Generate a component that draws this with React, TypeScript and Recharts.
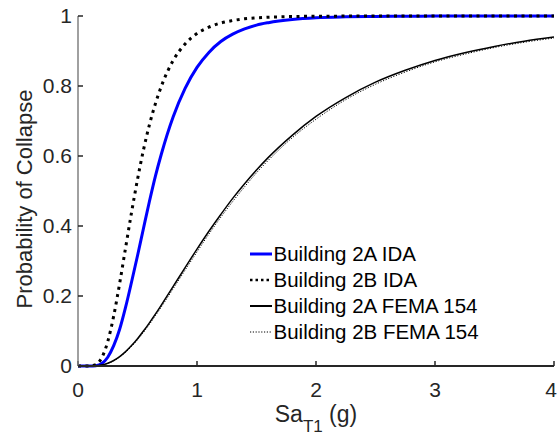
import React from 'react';
import { LineChart, Line, XAxis, YAxis, Legend } from 'recharts';

// Sa_T1 (g) sample points
const saValues = [0, 0.1, 0.15, 0.2, 0.25, 0.3, 0.35, 0.4, 0.45, 0.5, 0.55, 0.6, 0.65, 0.7, 0.8, 0.9, 1.0, 1.1, 1.2, 1.3, 1.4, 1.5, 1.6, 1.8, 2.0, 2.25, 2.5, 2.75, 3.0, 3.25, 3.5, 3.75, 4.0];

// Probability of collapse
const building2AIDA = [0, 0, 0.001, 0.007, 0.025, 0.058, 0.105, 0.168, 0.24, 0.315, 0.393, 0.47, 0.542, 0.605, 0.712, 0.793, 0.853, 0.896, 0.927, 0.948, 0.963, 0.974, 0.981, 0.99, 0.995, 0.9976, 0.9989, 0.9994, 0.9997, 0.9999, 1, 1, 1];
const building2BIDA = [0, 0.0002, 0.004, 0.024, 0.07, 0.143, 0.236, 0.338, 0.439, 0.533, 0.617, 0.689, 0.749, 0.799, 0.873, 0.92, 0.95, 0.968, 0.98, 0.987, 0.992, 0.9946, 0.9965, 0.9985, 0.9993, 0.9997, 0.9999, 1, 1, 1, 1, 1, 1];
const building2AFEMA = [0, 0.0001, 0.0008, 0.0032, 0.008, 0.0158, 0.0269, 0.0411, 0.0583, 0.078, 0.0998, 0.1234, 0.148, 0.174, 0.2275, 0.281, 0.334, 0.385, 0.433, 0.479, 0.521, 0.56, 0.596, 0.659, 0.713, 0.767, 0.811, 0.845, 0.873, 0.895, 0.913, 0.928, 0.9397];
const building2BFEMA = [0, 0.0001, 0.0008, 0.003, 0.0076, 0.015, 0.0256, 0.0393, 0.0559, 0.075, 0.0962, 0.119, 0.1434, 0.1687, 0.221, 0.274, 0.326, 0.377, 0.425, 0.47, 0.512, 0.552, 0.588, 0.652, 0.705, 0.761, 0.805, 0.84, 0.869, 0.891, 0.91, 0.925, 0.937];

const xTicks = [0, 1, 2, 3, 4];
const yTicks = [0, 0.2, 0.4, 0.6, 0.8, 1];
const seriesNames = ['Building 2A IDA', 'Building 2B IDA', 'Building 2A FEMA 154', 'Building 2B FEMA 154'];

const data = saValues.map((sa, i) => ({
  sa,
  ida2A: building2AIDA[i],
  ida2B: building2BIDA[i],
  fema2A: building2AFEMA[i],
  fema2B: building2BFEMA[i],
}));

const FONT = '"Liberation Sans", Arial, Helvetica, sans-serif';
const TEXT = '#262626';
const TICK_FONT = 21;

const seriesStyles = [
  { key: 'ida2A', name: seriesNames[0], stroke: '#0000ff', width: 3, dash: undefined as string | undefined, legendWidth: 3, legendDash: undefined as string | undefined },
  { key: 'ida2B', name: seriesNames[1], stroke: '#000000', width: 3, dash: '3 4.5', legendWidth: 2.5, legendDash: '2.5 3' },
  { key: 'fema2A', name: seriesNames[2], stroke: '#000000', width: 1.5, dash: undefined, legendWidth: 2, legendDash: undefined },
  { key: 'fema2B', name: seriesNames[3], stroke: '#000000', width: 1, dash: '1.2 1.6', legendWidth: 1, legendDash: '1.2 1.6' },
];

const renderLegend = () => (
  <svg width={250} height={104} style={{ display: 'block', overflow: 'visible' }}>
    {seriesStyles.map((s, i) => {
      const cy = 13 + i * 26;
      return (
        <g key={s.key}>
          <line x1={0} x2={22} y1={cy} y2={cy} stroke={s.stroke} strokeWidth={s.legendWidth} strokeDasharray={s.legendDash} />
          <text x={23.5} y={cy + 7} fontSize={20.5} fontFamily={FONT} fill="#000">{s.name}</text>
        </g>
      );
    })}
  </svg>
);

const YLabel = (props: any) => {
  const vb = props.viewBox || { x: 0, y: 16, width: 78, height: 350 };
  const cx = 32;
  const cy = vb.y + vb.height / 2 + 8;
  return (
    <text x={cx} y={cy} transform={`rotate(-90, ${cx}, ${cy})`} textAnchor="middle" fontSize={22} fontFamily={FONT} fill={TEXT}>
      Probability of Collapse
    </text>
  );
};

const XLabel = (props: any) => {
  const vb = props.viewBox || { x: 78, y: 366, width: 476, height: 72 };
  const cx = vb.x + vb.width / 2;
  const by = vb.y + 56;
  return (
    <text x={cx} y={by} textAnchor="middle" fontSize={23} fontFamily={FONT} fill={TEXT}>
      <tspan>Sa</tspan>
      <tspan fontSize={17} dy={10}>T1</tspan>
      <tspan dy={-10}>{'\u00A0(g)'}</tspan>
    </text>
  );
};

const XTick = (props: any) => {
  const { x, y, payload } = props;
  const isLast = payload.value === xTicks[xTicks.length - 1];
  return (
    <text x={x} y={y} dy="0.71em" dx={isLast ? -3 : 0} textAnchor="middle" fontSize={TICK_FONT} fontFamily={FONT} fill={TEXT}>
      {String(payload.value)}
    </text>
  );
};

export default function App() {
  return (
    <div style={{ position: 'absolute', left: 0, top: 0, width: 557, height: 438, background: '#fff' }}>
      <LineChart width={557} height={438} data={data} margin={{ top: 16, right: 3, bottom: 0, left: 0 }}>
        <XAxis
          dataKey="sa"
          type="number"
          domain={[0, 4]}
          ticks={xTicks}
          interval={0}
          height={72}
          tickSize={-5}
          tickMargin={21}
          axisLine={{ stroke: TEXT, strokeWidth: 2 }}
          tickLine={{ stroke: TEXT, strokeWidth: 1.5 }}
          tick={<XTick />}
          label={<XLabel />}
        />
        <YAxis
          type="number"
          domain={[0, 1]}
          ticks={yTicks}
          interval={0}
          width={78}
          tickSize={-5}
          tickMargin={11}
          axisLine={{ stroke: '#808080', strokeWidth: 1.5 }}
          tickLine={{ stroke: TEXT, strokeWidth: 1.5 }}
          tick={{ fill: TEXT, fontSize: TICK_FONT, fontFamily: FONT }}
          tickFormatter={(v: number) => String(v)}
          label={<YLabel />}
        />
        <Legend
          layout="horizontal"
          verticalAlign="middle"
          align="center"
          content={renderLegend}
          wrapperStyle={{ left: 250, top: 241, width: 250, height: 104 }}
        />
        {seriesStyles.map((s) => (
          <Line
            key={s.key}
            dataKey={s.key}
            name={s.name}
            type="monotone"
            stroke={s.stroke}
            strokeWidth={s.width}
            strokeDasharray={s.dash}
            dot={false}
            activeDot={false}
            isAnimationActive={false}
          />
        ))}
      </LineChart>
    </div>
  );
}
